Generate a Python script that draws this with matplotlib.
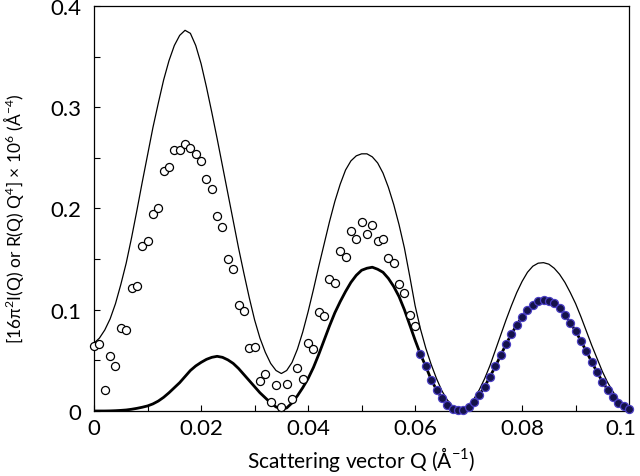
import numpy as np
import matplotlib.pyplot as plt
import matplotlib.transforms as mtransforms
from matplotlib.ticker import MultipleLocator, FuncFormatter

plt.rcParams['font.family'] = ['Lato', 'DejaVu Sans']
plt.rcParams['mathtext.fontset'] = 'dejavusans'

# thin line: upper curve, read every 0.001 in Q
thin_q = [round(0.001 * i, 3) for i in range(101)]
thin_y = [0.067, 0.072, 0.080, 0.091, 0.106, 0.125, 0.146, 0.171, 0.198, 0.226,
          0.253, 0.280, 0.304, 0.327, 0.346, 0.361, 0.371, 0.376, 0.373, 0.361,
          0.343, 0.320, 0.295, 0.269, 0.242, 0.215, 0.188, 0.161, 0.136, 0.112,
          0.090, 0.072, 0.058, 0.047, 0.040, 0.037, 0.040, 0.048, 0.061, 0.078,
          0.098, 0.120, 0.143, 0.165, 0.187, 0.207, 0.224, 0.238, 0.247, 0.252,
          0.254, 0.254, 0.251, 0.245, 0.235, 0.221, 0.204, 0.184, 0.161, 0.133,
          0.104, 0.081, 0.062, 0.046, 0.032, 0.020, 0.011, 0.005, 0.002, 0.002,
          0.006, 0.012, 0.021, 0.032, 0.045, 0.060, 0.075, 0.090, 0.104, 0.117,
          0.128, 0.137, 0.143, 0.146, 0.1465, 0.145, 0.141, 0.135, 0.127, 0.117,
          0.106, 0.093, 0.079, 0.065, 0.052, 0.039, 0.028, 0.019, 0.011, 0.006,
          0.004]

# thick line: lower curve up to Q = 0.060 (continued by the filled points)
thick_q = [round(0.001 * i, 3) for i in range(61)]
thick_y = [0.000, 0.000, 0.000, 0.0001, 0.0003, 0.0006, 0.001, 0.0017, 0.0026, 0.0037,
           0.005, 0.007, 0.0098, 0.0135, 0.018, 0.023, 0.028, 0.034, 0.040, 0.0445,
           0.048, 0.051, 0.053, 0.054, 0.053, 0.0505, 0.047, 0.042, 0.036, 0.030,
           0.024, 0.018, 0.013, 0.008, 0.004, 0.002, 0.003, 0.008, 0.015, 0.023,
           0.032, 0.043, 0.056, 0.070, 0.084, 0.097, 0.108, 0.118, 0.127, 0.134,
           0.139, 0.141, 0.142, 0.140, 0.137, 0.131, 0.123, 0.113, 0.100, 0.085,
           0.070]

# open circles
open_q = [round(0.001 * i, 3) for i in range(61)]
open_y = [0.064, 0.066, 0.021, 0.054, 0.044, 0.082, 0.080, 0.121, 0.123, 0.163,
          0.168, 0.195, 0.200, 0.237, 0.241, 0.258, 0.258, 0.264, 0.260, 0.254,
          0.247, 0.229, 0.219, 0.193, 0.182, 0.150, 0.140, 0.105, 0.099, 0.062,
          0.063, 0.030, 0.037, 0.009, 0.026, 0.004, 0.027, 0.012, 0.042, 0.032,
          0.067, 0.061, 0.098, 0.094, 0.130, 0.126, 0.158, 0.152, 0.178, 0.170,
          0.187, 0.175, 0.184, 0.168, 0.170, 0.151, 0.146, 0.125, 0.117, 0.095,
          0.084]

# filled circles
filled_q = [round(0.061 + 0.001 * i, 3) for i in range(40)]
filled_y = [0.056, 0.044, 0.031, 0.021, 0.0126, 0.0063, 0.002, 0.0007, 0.0007, 0.0036,
            0.0086, 0.016, 0.024, 0.034, 0.044, 0.055, 0.066, 0.076, 0.085, 0.093,
            0.100, 0.105, 0.1086, 0.110, 0.109, 0.1066, 0.102, 0.095, 0.087, 0.079,
            0.069, 0.059, 0.0485, 0.0386, 0.029, 0.021, 0.014, 0.0082, 0.0046, 0.002]

fig = plt.figure(figsize=(6.4, 4.77), dpi=100)
ax = fig.add_axes([0.147, 0.1363, 0.836, 0.849])

ax.plot(thin_q, thin_y, color='black', lw=0.9, zorder=2)
ax.plot(thick_q + filled_q, thick_y + filled_y, color='black', lw=2.0, zorder=2)
ax.plot(open_q, open_y, 'o', ms=5.8, mfc='white', mec='black', mew=0.9,
        clip_on=False, zorder=3)
ax.plot(filled_q, filled_y, 'o', ms=5.8, mfc='#14124a', mec='#4b3fc4', mew=0.9,
        clip_on=False, zorder=4)

ax.set_xlim(0, 0.1)
ax.set_ylim(0, 0.4)
ax.xaxis.set_major_locator(MultipleLocator(0.02))
ax.xaxis.set_minor_locator(MultipleLocator(0.01))
ax.yaxis.set_major_locator(MultipleLocator(0.1))
ax.yaxis.set_minor_locator(MultipleLocator(0.05))
fmt = FuncFormatter(lambda v, _: f'{v:g}')
ax.xaxis.set_major_formatter(fmt)
ax.yaxis.set_major_formatter(fmt)
ax.tick_params(which='both', direction='in', length=4.5, width=0.8,
               top=False, right=False, labelsize=16)
ax.tick_params(axis='y', pad=9)
ax.tick_params(axis='x', pad=5)
for s in ax.spines.values():
    s.set_linewidth(0.9)

# keep the last x label ("0.1") inside the figure
fig.canvas.draw()
xlabels = [t for t in ax.get_xticklabels() if t.get_text() == '0.1']
for t in xlabels:
    t.set_transform(t.get_transform() + mtransforms.ScaledTranslation(-8 / 100, 0, fig.dpi_scale_trans))

ax.set_xlabel('Scattering vector Q (Å$^{\\mathregular{-1}}$)', fontsize=15)
ax.set_ylabel('[16π$^{\\mathregular{2}}$I(Q) or R(Q) Q$^{\\mathregular{4}}$] × 10$^{\\mathregular{6}}$ (Å$^{\\mathregular{-4}}$)',
              fontsize=12.5)
ax.xaxis.set_label_coords(0.5, -0.082)
ax.yaxis.set_label_coords(-0.128, 0.477)

fig.savefig('out.png', dpi=100)
